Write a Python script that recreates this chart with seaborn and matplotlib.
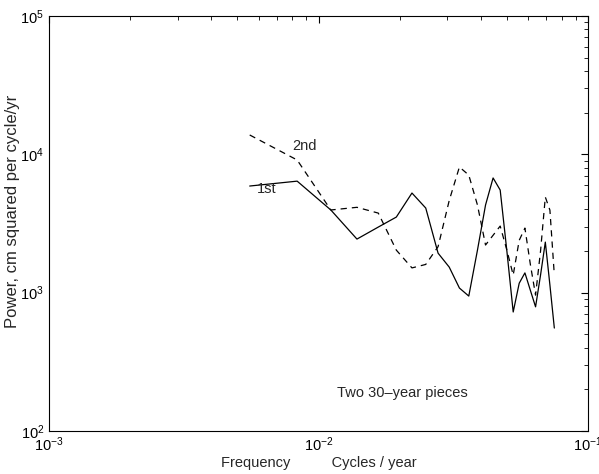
import numpy as np
import pandas as pd
import seaborn as sns
import matplotlib
matplotlib.use("Agg")
import matplotlib.pyplot as plt
from matplotlib.ticker import LogLocator, NullFormatter

# Harmonics of a 30-year record (monthly: 360 samples) -> cycles / year grid
harmonic = [2, 3, 4, 5, 6, 7, 8, 9, 10, 11, 12, 13, 14, 15, 16, 17, 18, 19,
            20, 21, 22, 23, 24, 25, 26, 27]
freq = [k / 360 for k in harmonic]

# Power (cm^2 per cycle/yr)
power_1st = [5900, 6400, 3960, 2440, 2980, 3520, 5250, 4090, 1930, 1530,
             1080, 945, 2030, 4300, 6750, 5520, 2000, 725, 1170, 1390,
             1040, 790, 1340, 2320, 1135, 555]
power_2nd = [13800, 9100, 3960, 4140, 3760, 2030, 1510, 1600, 2150, 4640,
             8100, 7080, 4300, 2210, 2600, 3030, 2030, 1340, 2390, 2930,
             1600, 960, 2000, 4910, 3950, 1340]

df = pd.concat([
    pd.DataFrame({"freq": freq, "power": power_1st, "piece": "1st"}),
    pd.DataFrame({"freq": freq, "power": power_2nd, "piece": "2nd"}),
])

sns.set_theme(style="white")
plt.rcParams["font.family"] = ["Liberation Sans", "DejaVu Sans"]
plt.rcParams["mathtext.fontset"] = "custom"
plt.rcParams["mathtext.rm"] = "Liberation Sans"

fig = plt.figure(figsize=(5.99, 4.74), dpi=100)
ax = fig.add_axes([49 / 599, 1 - 431 / 474, 539 / 599, 415 / 474])

sns.lineplot(
    data=df, x="freq", y="power", style="piece",
    dashes={"1st": "", "2nd": (5, 4)},
    color="black", linewidth=0.9, legend=False, ax=ax
)

ax.set_xscale("log")
ax.set_yscale("log")
ax.set_xlim(1e-3, 1e-1)
ax.set_ylim(1e2, 1e5)

ax.xaxis.set_major_locator(LogLocator(base=10, numticks=10))
ax.yaxis.set_major_locator(LogLocator(base=10, numticks=10))
ax.xaxis.set_minor_locator(LogLocator(base=10, subs=np.arange(2, 10), numticks=20))
ax.yaxis.set_minor_locator(LogLocator(base=10, subs=np.arange(2, 10), numticks=20))
ax.xaxis.set_minor_formatter(NullFormatter())
ax.yaxis.set_minor_formatter(NullFormatter())
ax.tick_params(which="both", direction="in", top=True, right=True,
               colors="black", labelsize=10.5)
ax.tick_params(which="major", length=5, width=0.8)
ax.tick_params(which="minor", length=3, width=0.6)
for s in ax.spines.values():
    s.set_color("black")
    s.set_linewidth(0.8)

ax.set_xlabel("Frequency          Cycles / year", fontsize=10.5, labelpad=1)
ax.set_ylabel("Power, cm squared per cycle/yr", fontsize=12, labelpad=2)
ax.yaxis.set_label_coords(-0.053, 0.53)

ax.text(0.0064, 5600, "1st", fontsize=10.5, ha="center", va="center")
ax.text(0.0089, 11500, "2nd", fontsize=10.5, ha="center", va="center")
ax.text(0.534, 0.092, "Two 30\u2013year pieces", fontsize=10.5,
        transform=ax.transAxes, ha="left", va="center")

fig.savefig("out.png", dpi=100)
